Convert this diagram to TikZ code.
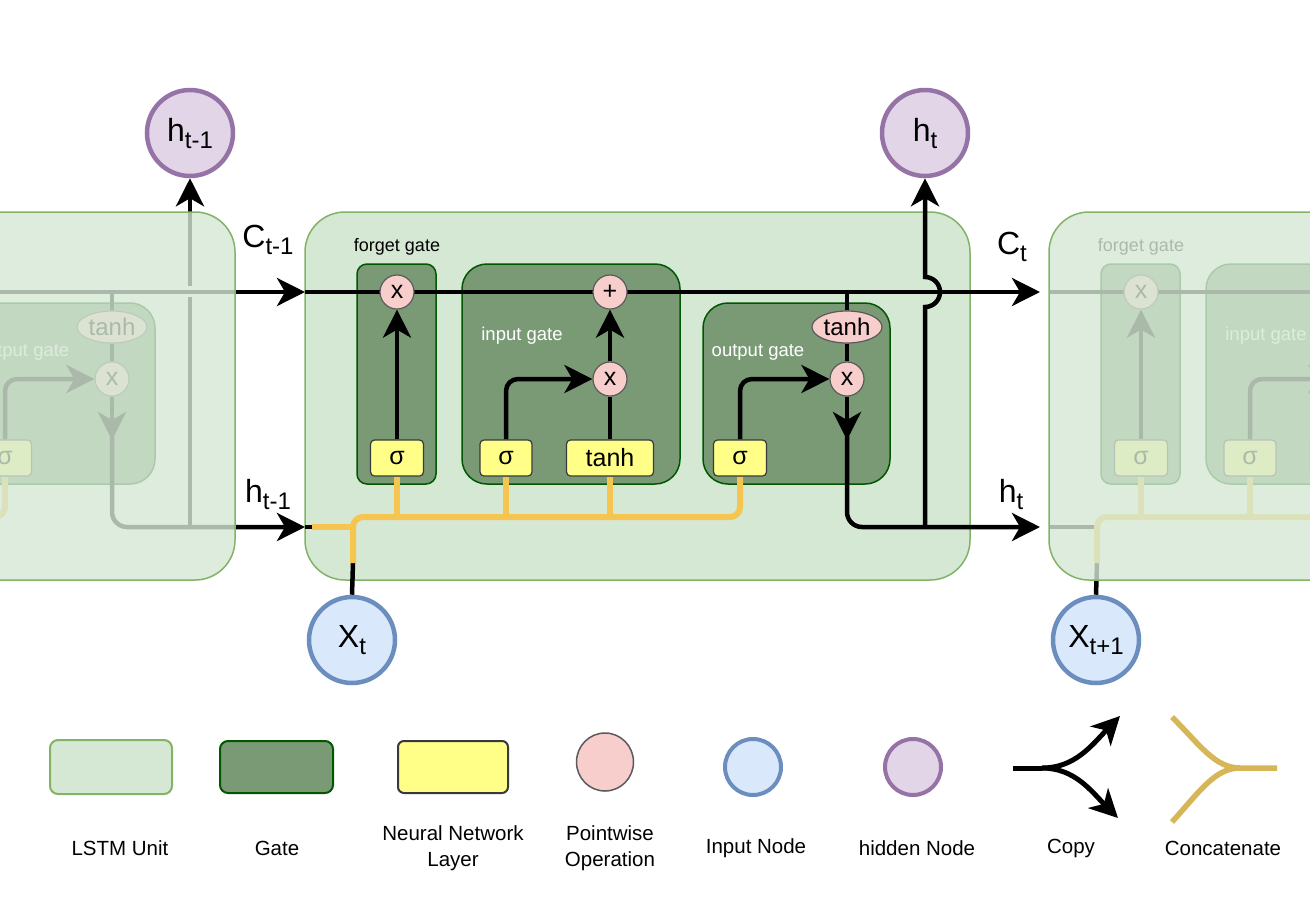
\documentclass[tikz,border=0pt]{standalone}
\usepackage{fontspec}
\setmainfont{Liberation Sans}
\usetikzlibrary{arrows.meta,shapes.geometric}
\pgfdeclarelayer{unitlayer}
\pgfdeclarelayer{linelayer}
\pgfdeclarelayer{overlaylayer}
\pgfsetlayers{unitlayer,linelayer,main,overlaylayer}
\definecolor{unitfill}{HTML}{D5E8D4}
\definecolor{unitdraw}{HTML}{82B366}
\definecolor{gatefill}{HTML}{7A9A76}
\definecolor{gatedraw}{HTML}{005700}
\definecolor{nnfill}{HTML}{FFFF88}
\definecolor{nndraw}{HTML}{36393D}
\definecolor{opfill}{HTML}{F8CECC}
\definecolor{opdraw}{HTML}{5A5A5A}
\definecolor{infill}{HTML}{DAE8FC}
\definecolor{indraw}{HTML}{6C8EBF}
\definecolor{hidfill}{HTML}{E1D5E7}
\definecolor{hiddraw}{HTML}{9673A6}
\definecolor{yelc}{HTML}{F6C54F}
\definecolor{concc}{HTML}{D6B656}
\newcommand\ssub[1]{\raisebox{-7pt}{\fontsize{24}{24}\selectfont #1}}
\tikzset{
  arr/.style={-{Stealth[length=28pt,width=28pt,inset=8pt]}},
  blk/.style={line width=4.5pt, black},
  yel/.style={line width=6pt, yelc},
  opnode/.style={circle, draw=opdraw, fill=opfill, line width=1.2pt, minimum size=34pt, inner sep=0pt, font=\fontsize{25}{25}\selectfont},
  optanh/.style={ellipse, draw=opdraw, fill=opfill, line width=1.2pt, minimum width=70pt, minimum height=32pt, inner sep=0pt, font=\fontsize{24}{24}\selectfont},
  nnbox/.style={rectangle, rounded corners=4pt, draw=nndraw, fill=nnfill, line width=1.2pt, minimum height=36pt, inner sep=0pt, font=\fontsize{25}{25}\selectfont},
  gatebox/.style={draw=gatedraw, fill=gatefill, line width=1.5pt},
  glabel/.style={font=\fontsize{18.5}{18.5}\selectfont, white, inner sep=0pt},
  flabel/.style={font=\fontsize{18}{18}\selectfont, black, inner sep=0pt},
  hnode/.style={circle, draw=hiddraw, fill=hidfill, line width=4.5pt, minimum size=86pt, inner sep=0pt, font=\fontsize{32}{32}\selectfont},
  xnode/.style={circle, draw=indraw, fill=infill, line width=4.5pt, minimum size=86pt, inner sep=0pt, font=\fontsize{32}{32}\selectfont},
  ghost/.style={circle, minimum size=90pt, inner sep=0pt},
  biglabel/.style={font=\fontsize{32}{32}\selectfont, inner sep=0pt},
  leg/.style={font=\fontsize{20.5}{26}\selectfont, align=center, inner sep=0pt},
  unitbox/.style={draw=unitdraw, fill=unitfill, line width=1.5pt, rounded corners=40pt},
}
% #1 = x shift, #2 = prefix, #3 = hidden output node, #4 = crossing of the copy line, #5 = style of the incoming h segment
\newcommand\lstmcell[5]{%
\begin{scope}[xshift=#1pt]
  \begin{pgfonlayer}{unitlayer}
    \draw[gatebox, rounded corners=10pt] (357,264) rectangle (436,484);
    \draw[gatebox, rounded corners=25pt] (462,264) rectangle (680,484);
    \draw[gatebox, rounded corners=25pt] (703,303) rectangle (890,484);
  \end{pgfonlayer}
  \node[flabel] (#2fgl) at (397,247) {forget gate};
  \node[glabel] (#2igl) at (522,336) {input gate};
  \node[glabel] (#2ogl) at (758,352) {output gate};
  \node[opnode] (#2fx) at (397,292) {x};
  \node[opnode] (#2plus) at (610,292) {+};
  \node[opnode] (#2ix) at (610,379) {x};
  \node[opnode] (#2ox) at (847,379) {x};
  \node[optanh] (#2ot) at (847,327) {tanh};
  \node[nnbox, minimum width=53pt] (#2fs) at (397,458) {σ};
  \node[nnbox, minimum width=52pt] (#2is) at (506,458) {σ};
  \node[nnbox, minimum width=87pt] (#2it) at (610,458) {tanh};
  \node[nnbox, minimum width=53pt] (#2os) at (740,458) {σ};
  \coordinate (#2cj) at (847,292);
  \begin{pgfonlayer}{linelayer}
    \draw[blk, arr] (305,292) -- (1040,292);
    \draw[blk, arr] (#2fs.north) -- (#2fx.south);
    \draw[blk, arr, rounded corners=12pt] (#2is.north) |- (#2ix.west);
    \draw[blk] (#2it.north) -- (#2ix.south);
    \draw[blk, arr] (#2ix.north) -- (#2plus.south);
    \draw[blk, arr, rounded corners=12pt] (#2os.north) |- (#2ox.west);
    \draw[blk] (#2cj) -- (#2ot.north);
    \draw[blk] (#2ot.south) -- (#2ox.north);
    \draw[blk, arr] (#2ox.south) -- (847,440);
    \draw[blk, arr, rounded corners=15pt] (847,436) -- (847,527) -- (1040,527);
    \draw[blk, arr] (925,527) #4 -- (#3.south);
    \draw[blk] (305,527) -- (313,527);
    \draw[blk] (#2X.north) -- (353,563);
    \draw[#5] (312,527) -- (353,527);
    \draw[yel, rounded corners=10pt] (353,563) -- (353,517) -- (740,517) -- (#2os.south);
    \draw[yel] (397,517) -- (#2fs.south);
    \draw[yel] (506,517) -- (#2is.south);
    \draw[yel] (610,517) -- (#2it.south);
  \end{pgfonlayer}
\end{scope}}
\begin{document}
\begin{tikzpicture}[x=1pt, y=-1pt]
\useasboundingbox (0,0) rectangle (1310,906);
\clip (0,0) rectangle (1310,906);
\begin{pgfonlayer}{unitlayer}
  \fill[white] (0,0) rectangle (1310,906);
  \draw[unitbox] (305,212) rectangle (970,580);
\end{pgfonlayer}
% hidden and input nodes
\node[hnode] (lH) at (190,133) {h\ssub{t-1}};
\node[hnode] (cH) at (925,133) {h\ssub{t}};
\node[ghost] (rH) at (1669,133) {};
\node[ghost] (lX) at (-383,640) {};
\node[xnode] (cX) at (352,640) {X\ssub{t}};
\node[xnode] (rX) at (1096,640) {X\ssub{t+1}};
% units
\lstmcell{-735}{l}{lH}{-- (925,297) (925,286)}{yel}
\lstmcell{0}{c}{cH}{-- (925,307) arc[start angle=90, end angle=-90, radius=15]}{yel}
\lstmcell{744}{r}{rH}{-- (925,307) arc[start angle=90, end angle=-90, radius=15]}{blk}
% faded neighbouring units
\begin{pgfonlayer}{overlaylayer}
  \draw[unitbox, fill opacity=0.8] (-430,212) rectangle (235,580);
  \draw[unitbox, fill opacity=0.8] (1049,212) rectangle (1714,580);
\end{pgfonlayer}
% state labels
\node[biglabel] (lC) at (268,240) {C\ssub{t-1}};
\node[biglabel] (lh) at (268,494) {h\ssub{t-1}};
\node[biglabel] (rC) at (1012,247) {C\ssub{t}};
\node[biglabel] (rh) at (1011,494) {h\ssub{t}};
% legend
\draw[draw=unitdraw, fill=unitfill, line width=2pt, rounded corners=8pt] (50,740) rectangle (172,794);
\draw[gatebox, line width=2pt, rounded corners=8pt] (220,741) rectangle (333,793);
\draw[draw=nndraw, fill=nnfill, line width=2pt, rounded corners=6pt] (398,741) rectangle (508,793);
\node[ellipse, draw=opdraw, fill=opfill, line width=1.5pt, minimum width=57pt, minimum height=58pt] (lgop) at (605,762) {};
\node[circle, draw=indraw, fill=infill, line width=4pt, minimum size=56pt] (lgin) at (753,767) {};
\node[circle, draw=hiddraw, fill=hidfill, line width=4pt, minimum size=56pt] (lghid) at (913,767) {};
\coordinate (cpa) at (1013,768);
\coordinate (cpb) at (1042,768);
\coordinate (cpu) at (1120,716);
\coordinate (cpd) at (1118,818);
\draw[blk, line width=5pt] (cpa) -- (cpb);
\draw[blk, line width=5pt, arr] (cpb) .. controls (1075,768) and (1092,745) .. (cpu);
\draw[blk, line width=5pt, arr] (cpb) .. controls (1075,768) and (1092,792) .. (cpd);
\coordinate (cca) at (1172,717);
\coordinate (ccb) at (1172,822);
\coordinate (ccm) at (1240,768);
\coordinate (cce) at (1277,768);
\draw[concc, line width=5.5pt] (cca) .. controls (1200,745) and (1215,768) .. (ccm) -- (cce);
\draw[concc, line width=5.5pt] (ccb) .. controls (1200,791) and (1215,768) .. (ccm);
\node[leg] (t1) at (120,848) {LSTM Unit};
\node[leg] (t2) at (277,848) {Gate};
\node[leg] (t3) at (453,848) {Neural Network\\Layer};
\node[leg] (t4) at (610,848) {Pointwise\\Operation};
\node[leg] (t5) at (756,848) {Input Node};
\node[leg] (t6) at (917,848) {hidden Node};
\node[leg] (t7) at (1071,848) {Copy};
\node[leg] (t8) at (1223,848) {Concatenate};
\end{tikzpicture}
\end{document}
